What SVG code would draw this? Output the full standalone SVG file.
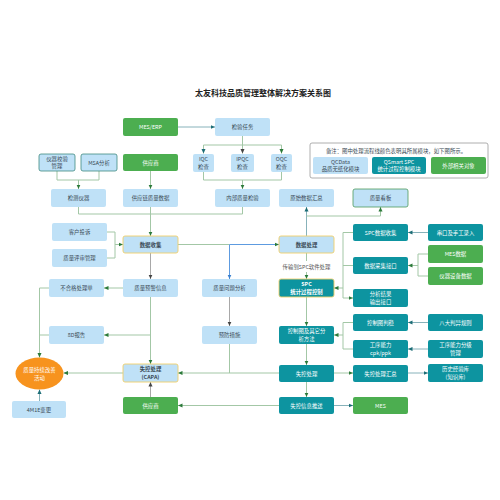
<svg xmlns="http://www.w3.org/2000/svg" width="500" height="500" viewBox="0 0 500 500">
<defs>
<style>
text{font-family:"Noto Sans CJK SC","Noto Sans",sans-serif;font-size:5.4px;text-anchor:middle;dominant-baseline:central}
.b{fill:#bfe1f7}
.g{fill:#4cae50}
.t{fill:#0d94a0}
.y{stroke:#f0cf6a;stroke-width:0.9}
.ob{stroke:#3f8a80;stroke-width:0.8}
.og{stroke:#4f9a5a;stroke-width:0.8}
.k{fill:#3a4a55}
.w{fill:#fff}
.bd{font-weight:bold}
.c{fill:none;stroke:#a3c7a6;stroke-width:1}
.ct{fill:none;stroke:#87b2ba;stroke-width:1}
.cg{fill:none;stroke:#a8a8a8;stroke-width:1}
.cb{fill:none;stroke:#5d9be0;stroke-width:1}
</style>
<marker id="ag" viewBox="0 0 10 10" refX="10" refY="5" markerWidth="4.5" markerHeight="4.5" markerUnits="userSpaceOnUse" orient="auto"><path d="M0,0.5 L10,5 L0,9.5 z" fill="#2c7a3a"/></marker>
<marker id="at" viewBox="0 0 10 10" refX="10" refY="5" markerWidth="4.5" markerHeight="4.5" markerUnits="userSpaceOnUse" orient="auto"><path d="M0,0.5 L10,5 L0,9.5 z" fill="#1c6d76"/></marker>
<marker id="ak" viewBox="0 0 10 10" refX="10" refY="5" markerWidth="4.5" markerHeight="4.5" markerUnits="userSpaceOnUse" orient="auto"><path d="M0,0.5 L10,5 L0,9.5 z" fill="#444"/></marker>
<marker id="ab" viewBox="0 0 10 10" refX="10" refY="5" markerWidth="4.5" markerHeight="4.5" markerUnits="userSpaceOnUse" orient="auto"><path d="M0,0.5 L10,5 L0,9.5 z" fill="#3a80d0"/></marker>
</defs>
<rect width="500" height="500" fill="#fff"/>
<text x="263" y="92" class="bd" style="font-size:8px;fill:#222">太友科技品质管理整体解决方案关系图</text>

<g id="connectors">
<path class="ct" d="M178 127 H215" marker-end="url(#at)"/>
<path class="c" d="M242.5 136 V145 M203.5 145 H281.5"/>
<path class="c" d="M203.5 145 V153.5" marker-end="url(#at)"/>
<path class="c" d="M242.5 145 V153.5" marker-end="url(#ak)"/>
<path class="c" d="M281.5 145 V153.5" marker-end="url(#ag)"/>
<path class="c" d="M57 171 V180 H99 V171"/>
<path class="c" d="M78.5 180 V189" marker-end="url(#ag)"/>
<path class="c" d="M150.5 171 V189" marker-end="url(#ag)"/>
<path class="c" d="M203.5 172 V180 H281.5 V172"/>
<path class="c" d="M242.5 180 V189" marker-end="url(#ag)"/>
<path class="c" d="M78.5 207 V214 H242.5 V207"/>
<path class="c" d="M150.5 207 V236" marker-end="url(#ag)"/>
<path class="c" d="M107 232 H115 V258 H107"/>
<path class="c" d="M115 244.5 H123" marker-end="url(#ag)"/>
<path class="c" d="M178 244.5 H229.5"/>
<path class="cb" d="M229.5 244.5 H279" marker-end="url(#ag)"/>
<path class="cb" d="M229.5 244.5 V279" marker-end="url(#ab)"/>
<path class="cg" d="M150.5 253 V279" marker-end="url(#ak)"/>
<path class="ct" d="M306.5 236 V207" marker-end="url(#at)"/>
<path class="c" d="M306.5 216 H380.5 V207" marker-end="url(#ag)"/>
<path class="c" d="M306.5 253 V261"/>
<path class="c" d="M306.5 272 V279" marker-end="url(#ag)"/>
<path class="c" d="M353 232.5 H343 V298 H353" marker-end="url(#ag)"/>
<path class="c" d="M353 265.5 H343"/>
<path class="c" d="M343 288 H334" marker-end="url(#ag)"/>
<path class="ct" d="M428 232.5 H408" marker-end="url(#at)"/>
<path class="c" d="M428 254 H418 V276 H428"/>
<path class="c" d="M418 265.5 H408" marker-end="url(#ag)"/>
<path class="c" d="M123 288 H104" marker-end="url(#ag)"/>
<path class="c" d="M150.5 297 V364" marker-end="url(#ag)"/>
<path class="c" d="M150.5 335 H104" marker-end="url(#ag)"/>
<path class="c" d="M49 288 H39.5 V357.5" marker-end="url(#ag)"/>
<path class="c" d="M49 335 H39.5"/>
<path class="cg" d="M229.5 297 V326" marker-end="url(#ak)"/>
<path class="c" d="M229.5 344 V373"/>
<path class="c" d="M306.5 297 V326" marker-end="url(#ag)"/>
<path class="c" d="M353 322.5 H343 V349 H353"/>
<path class="c" d="M343 335 H334" marker-end="url(#ag)"/>
<path class="ct" d="M428 322.5 H408" marker-end="url(#at)"/>
<path class="ct" d="M428 349 H408" marker-end="url(#at)"/>
<path class="c" d="M306.5 344 V365" marker-end="url(#ag)"/>
<path class="c" d="M123 373 H63.5" marker-end="url(#ag)"/>
<path class="c" d="M279 373 H178" marker-end="url(#ag)"/>
<path class="c" d="M334 373 H353" marker-end="url(#ag)"/>
<path class="ct" d="M408 373 H428" marker-end="url(#at)"/>
<path class="c" d="M306.5 382 V397" marker-end="url(#ag)"/>
<path class="ct" d="M39.5 401 V389.5" marker-end="url(#at)"/>
<path class="cg" d="M150.5 397 V382" marker-end="url(#ak)"/>
<path class="c" d="M279 405.5 H178" marker-end="url(#ag)"/>
<path class="ct" d="M334 405.5 H353" marker-end="url(#at)"/>
</g>

<g id="legend">
<rect x="310" y="143" width="178" height="35" rx="2" fill="#fff" stroke="#9a9a9a" stroke-width="0.8"/>
<text x="396" y="151" class="k">备注：图中处理流程线颜色表明其所属模块，如下图所示。</text>
<rect x="313" y="157" width="55" height="17" rx="2" class="b"/>
<text x="340.5" y="162" class="k">QCData</text><text x="340.5" y="169" class="k">品质无纸化模块</text>
<rect x="372" y="157" width="54" height="17" rx="2" class="t"/>
<text x="399" y="162" class="w">QSmart SPC</text><text x="399" y="169" class="w">统计过程控制模块</text>
<rect x="431" y="157" width="55" height="17" rx="2" class="g"/>
<text x="458.5" y="165.5" class="w">外部相关对象</text>
</g>

<g id="n-mes-erp"><rect x="123" y="118" width="55" height="18" rx="2" class="g"/><text x="150.5" y="127" class="w">MES/ERP</text></g>
<g id="n-task"><rect x="215" y="118" width="55" height="18" rx="2" class="b"/><text x="242.5" y="127" class="k">检验任务</text></g>
<g id="n-calib"><rect x="39" y="154" width="36" height="17" rx="2" class="b ob"/><text x="57" y="159" class="k">仪器校验</text><text x="57" y="166" class="k">管理</text></g>
<g id="n-msa"><rect x="81" y="154" width="36" height="17" rx="2" class="b ob"/><text x="99" y="162.5" class="k">MSA分析</text></g>
<g id="n-supplier1"><rect x="123" y="154" width="55" height="17" rx="2" class="g"/><text x="150.5" y="162.5" class="w">供应商</text></g>
<g id="n-iqc"><rect x="193" y="154" width="21" height="18" rx="2" class="b"/><text x="203.5" y="159" class="k">IQC</text><text x="203.5" y="166.5" class="k">检查</text></g>
<g id="n-ipqc"><rect x="231" y="154" width="23" height="18" rx="2" class="b"/><text x="242.5" y="159" class="k">IPQC</text><text x="242.5" y="166.5" class="k">检查</text></g>
<g id="n-oqc"><rect x="271" y="154" width="21" height="18" rx="2" class="b"/><text x="281.5" y="159" class="k">OQC</text><text x="281.5" y="166.5" class="k">检查</text></g>

<g id="n-instrument"><rect x="51" y="189" width="55" height="18" rx="2" class="b"/><text x="78.5" y="198" class="k">检测仪器</text></g>
<g id="n-scdata"><rect x="123" y="189" width="55" height="18" rx="2" class="b"/><text x="150.5" y="198" class="k">供应链质量数据</text></g>
<g id="n-internal"><rect x="215" y="189" width="55" height="18" rx="2" class="b"/><text x="242.5" y="198" class="k">内部质量检验</text></g>
<g id="n-raw"><rect x="279" y="189" width="55" height="18" rx="2" class="b"/><text x="306.5" y="198" class="k">原始数据汇总</text></g>
<g id="n-board"><rect x="353" y="189" width="55" height="18" rx="2" class="b og"/><text x="380.5" y="198" class="k">质量看板</text></g>

<g id="n-complaint"><rect x="52" y="223" width="55" height="18" rx="2" class="b"/><text x="79.5" y="232" class="k">客户投诉</text></g>
<g id="n-review"><rect x="52" y="249" width="55" height="18" rx="2" class="b"/><text x="79.5" y="258" class="k">质量评审管理</text></g>
<g id="n-collect"><rect x="123" y="236" width="55" height="17" rx="2" class="b y"/><text x="150.5" y="244.5" class="k bd">数据收集</text></g>
<g id="n-process"><rect x="279" y="236" width="55" height="17" rx="2" class="b y"/><text x="306.5" y="244.5" class="k bd">数据处理</text></g>
<text x="306.5" y="266.5" style="fill:#555">传输到SPC软件处理</text>
<g id="n-spc"><rect x="279" y="279" width="55" height="18" rx="2" class="t y"/><text x="306.5" y="284" class="w bd">SPC</text><text x="306.5" y="292" class="w bd">统计过程控制</text></g>
<g id="n-spccollect"><rect x="353" y="224" width="55" height="17" rx="2" class="t"/><text x="380.5" y="232.5" class="w">SPC数据收集</text></g>
<g id="n-acq"><rect x="353" y="257" width="55" height="17" rx="2" class="t"/><text x="380.5" y="265.5" class="w">数据采集接口</text></g>
<g id="n-output"><rect x="353" y="289" width="55" height="18" rx="2" class="t"/><text x="380.5" y="294" class="w">分析结果</text><text x="380.5" y="301.5" class="w">输出接口</text></g>
<g id="n-serial"><rect x="428" y="224" width="55" height="17" rx="2" class="t"/><text x="455.5" y="232.5" class="w">串口及手工录入</text></g>
<g id="n-mesdata"><rect x="428" y="245" width="55" height="18" rx="2" class="g"/><text x="455.5" y="254" class="w">MES数据</text></g>
<g id="n-devdata"><rect x="428" y="267" width="55" height="18" rx="2" class="g"/><text x="455.5" y="276" class="w">仪器设备数据</text></g>

<g id="n-ncr"><rect x="49" y="279" width="55" height="18" rx="2" class="b"/><text x="76.5" y="288" class="k">不合格处理单</text></g>
<g id="n-warn"><rect x="123" y="279" width="55" height="18" rx="2" class="b"/><text x="150.5" y="288" class="k">质量预警信息</text></g>
<g id="n-analysis"><rect x="202" y="279" width="55" height="18" rx="2" class="b"/><text x="229.5" y="288" class="k">质量问题分析</text></g>
<g id="n-8d"><rect x="49" y="326" width="55" height="18" rx="2" class="b"/><text x="76.5" y="335" class="k">8D报告</text></g>
<g id="n-prevent"><rect x="202" y="326" width="55" height="18" rx="2" class="b"/><text x="229.5" y="335" class="k">预防措施</text></g>
<g id="n-chart"><rect x="279" y="326" width="55" height="18" rx="2" class="t"/><text x="306.5" y="331" class="w">控制图及其它分</text><text x="306.5" y="338.5" class="w">析方法</text></g>
<g id="n-stable"><rect x="353" y="314" width="55" height="17" rx="2" class="t"/><text x="380.5" y="322.5" class="w">控制图判稳</text></g>
<g id="n-cpk"><rect x="353" y="340" width="55" height="18" rx="2" class="t"/><text x="380.5" y="345" class="w">工序能力</text><text x="380.5" y="352.5" class="w">cpk/ppk</text></g>
<g id="n-rules"><rect x="428" y="314" width="55" height="17" rx="2" class="t"/><text x="455.5" y="322.5" class="w">八大判异规则</text></g>
<g id="n-grade"><rect x="428" y="340" width="55" height="18" rx="2" class="t"/><text x="455.5" y="345" class="w">工序能力分级</text><text x="455.5" y="352.5" class="w">管理</text></g>

<g id="n-improve"><ellipse cx="39.5" cy="373.5" rx="24" ry="16" fill="#f7931e"/><text x="39.5" y="369.5" class="w">质量持续改善</text><text x="39.5" y="377.5" class="w">活动</text></g>
<g id="n-capa"><rect x="123" y="364" width="55" height="18" rx="2" class="b y"/><text x="150.5" y="369" class="k bd">失控处理</text><text x="150.5" y="377" class="k bd">(CAPA)</text></g>
<g id="n-ooc"><rect x="279" y="365" width="55" height="17" rx="2" class="t"/><text x="306.5" y="373.5" class="w">失控处理</text></g>
<g id="n-oocsum"><rect x="353" y="365" width="55" height="17" rx="2" class="t"/><text x="380.5" y="373.5" class="w">失控处理汇总</text></g>
<g id="n-kb"><rect x="428" y="364" width="55" height="18" rx="2" class="t"/><text x="455.5" y="369" class="w">历史经验库</text><text x="455.5" y="376.5" class="w">(知识库)</text></g>

<g id="n-4m1e"><rect x="12" y="401" width="54" height="17" rx="2" class="b"/><text x="39" y="409.5" class="k">4M1E变更</text></g>
<g id="n-supplier2"><rect x="123" y="397" width="55" height="17" rx="2" class="g"/><text x="150.5" y="405.5" class="w">供应商</text></g>
<g id="n-push"><rect x="279" y="397" width="55" height="17" rx="2" class="t"/><text x="306.5" y="405.5" class="w">失控信息推送</text></g>
<g id="n-mes"><rect x="353" y="397" width="55" height="17" rx="2" class="g"/><text x="380.5" y="405.5" class="w">MES</text></g>
</svg>
